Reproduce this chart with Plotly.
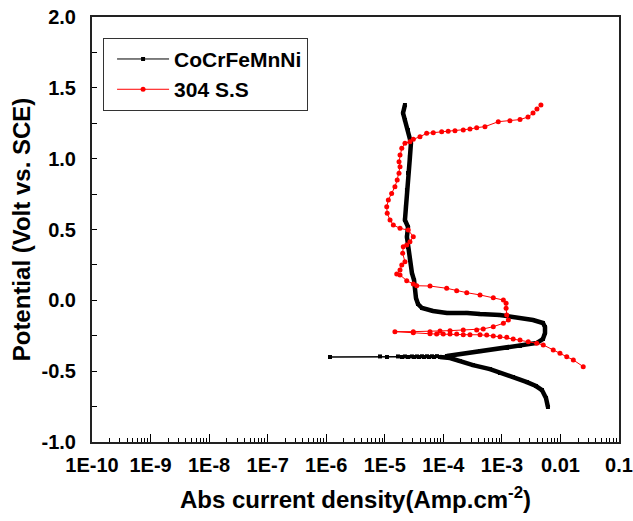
import plotly.graph_objects as go

# ---------------- data ----------------
# CoCrFeMnNi: cathodic branch (scan from -0.75 V upward)
hea_cath_i = [6.12e-3, 5.66e-3, 4.83e-3, 3.82e-3, 2.68e-3, 1.55e-3, 9.27e-4, 6.25e-4,
              3.21e-4, 1.92e-4, 1.30e-4, 8.77e-5]
hea_cath_E = [-0.753, -0.689, -0.633, -0.605, -0.577, -0.541, -0.513, -0.485,
              -0.457, -0.428, -0.407, -0.400]
# CoCrFeMnNi: points around the corrosion potential
hea_corr_i = [6.92e-5, 5.69e-5, 4.67e-5, 3.84e-5, 3.16e-5, 2.49e-5, 1.97e-5, 1.09e-5, 1.16e-6,
              8.28e-6, 1.68e-5, 2.21e-5, 2.91e-5, 3.55e-5, 4.32e-5, 5.26e-5, 6.40e-5, 7.78e-5]
hea_corr_E = [-0.400, -0.400, -0.400, -0.400, -0.400, -0.400, -0.400, -0.400, -0.400,
              -0.396, -0.396, -0.396, -0.396, -0.396, -0.395, -0.395, -0.395, -0.394]
# CoCrFeMnNi: anodic branch
hea_anod_i = [1.15e-4, 2.54e-4, 4.23e-4, 1.22e-3, 2.04e-3, 3.97e-3, 5.02e-3, 5.45e-3,
              5.45e-3, 5.02e-3, 3.40e-3, 1.55e-3, 9.27e-4, 4.23e-4, 2.54e-4, 1.15e-4,
              6.65e-5, 4.32e-5, 3.69e-5, 3.41e-5, 3.28e-5, 3.16e-5, 2.91e-5, 2.69e-5,
              2.49e-5, 2.39e-5, 2.49e-5, 2.21e-5, 2.30e-5, 2.39e-5, 2.49e-5, 2.69e-5,
              2.80e-5, 2.49e-5, 2.21e-5, 2.05e-5, 2.21e-5]
hea_anod_E = [-0.393, -0.372, -0.358, -0.336, -0.322, -0.301, -0.273, -0.231,
              -0.188, -0.160, -0.139, -0.118, -0.104, -0.097, -0.089, -0.089,
              -0.075, -0.054, -0.026, 0.016, 0.073, 0.143, 0.193, 0.285,
              0.376, 0.447, 0.518, 0.567, 0.659, 0.779, 0.899, 1.012,
              1.111, 1.202, 1.273, 1.322, 1.379]

# 304 S.S
ss_i = [2.45e-2, 1.66e-2, 1.28e-2, 9.82e-3, 7.53e-3, 5.09e-3, 3.93e-3, 2.82e-3, 2.04e-3,
        1.56e-3, 1.21e-3, 9.27e-4, 7.13e-4, 5.50e-4, 4.23e-4, 2.85e-4, 2.19e-4, 1.69e-4,
        1.30e-4, 9.97e-5, 7.69e-5, 5.92e-5, 3.07e-5, 1.49e-5,
        3.07e-5, 5.92e-5, 8.77e-5, 1.30e-4, 2.19e-4, 3.71e-4, 4.81e-4, 7.13e-4, 1.06e-3,
        1.29e-3, 1.21e-3, 1.18e-3, 1.18e-3, 1.06e-3, 7.13e-4, 4.23e-4, 2.51e-4, 1.69e-4,
        1.14e-4, 5.92e-5, 3.51e-5, 3.07e-5, 2.37e-5, 1.82e-5, 1.60e-5, 1.82e-5, 1.95e-5,
        2.21e-5, 2.02e-5, 2.07e-5, 2.37e-5, 2.69e-5, 3.07e-5, 2.52e-5, 1.82e-5, 1.40e-5,
        1.23e-5, 1.10e-5, 1.08e-5, 1.15e-5, 1.31e-5, 1.49e-5, 1.63e-5, 1.75e-5, 1.82e-5,
        1.75e-5, 1.82e-5, 1.95e-5, 2.21e-5, 2.69e-5, 3.07e-5, 3.99e-5, 5.19e-5, 6.73e-5,
        9.37e-5, 1.21e-4, 1.58e-4, 2.19e-4, 2.85e-4, 3.71e-4, 5.14e-4, 8.67e-4, 1.37e-3,
        2.04e-3, 2.79e-3, 3.40e-3, 3.97e-3, 4.64e-3]
ss_E = [-0.468, -0.421, -0.398, -0.374, -0.351, -0.315, -0.303, -0.292, -0.280,
        -0.273, -0.261, -0.257, -0.252, -0.245, -0.243, -0.243, -0.243, -0.238,
        -0.238, -0.238, -0.238, -0.236, -0.228, -0.221,
        -0.221, -0.221, -0.216, -0.214, -0.209, -0.209, -0.202, -0.186, -0.162,
        -0.139, -0.104, -0.056, -0.021, 0.002, 0.019, 0.038, 0.054, 0.068,
        0.085, 0.101, 0.103, 0.115, 0.139, 0.179, 0.186, 0.214, 0.249,
        0.273, 0.332, 0.379, 0.391, 0.414, 0.449, 0.496, 0.508, 0.532,
        0.567, 0.614, 0.661, 0.708, 0.755, 0.802, 0.849, 0.897, 0.943,
        0.979, 1.026, 1.073, 1.108, 1.120, 1.137, 1.155, 1.179, 1.183,
        1.190, 1.193, 1.197, 1.202, 1.209, 1.219, 1.226, 1.261, 1.268,
        1.276, 1.294, 1.322, 1.351, 1.379]

x_tickvals = [1e-10, 1e-9, 1e-8, 1e-7, 1e-6, 1e-5, 1e-4, 1e-3, 1e-2, 1e-1]
x_ticktext = ["1E-10", "1E-9", "1E-8", "1E-7", "1E-6", "1E-5", "1E-4", "1E-3", "0.01", "0.1"]
y_tickvals = [-1.0, -0.5, 0.0, 0.5, 1.0, 1.5, 2.0]
y_ticktext = ["-1.0", "-0.5", "0.0", "0.5", "1.0", "1.5", "2.0"]

FONT = "Liberation Sans, Arial, sans-serif"

fig = go.Figure()

# thick body of the densely sampled black curve
fig.add_trace(go.Scatter(x=hea_cath_i, y=hea_cath_E, mode="lines",
                         line=dict(color="black", width=4.5), showlegend=False, hoverinfo="skip"))
fig.add_trace(go.Scatter(x=hea_anod_i, y=hea_anod_E, mode="lines",
                         line=dict(color="black", width=4.5), showlegend=False, hoverinfo="skip"))
# full black series with markers
fig.add_trace(go.Scatter(x=hea_cath_i + hea_corr_i + hea_anod_i,
                         y=hea_cath_E + hea_corr_E + hea_anod_E,
                         mode="lines+markers", name="CoCrFeMnNi",
                         line=dict(color="black", width=1),
                         marker=dict(color="black", size=4, symbol="square")))
fig.add_trace(go.Scatter(x=ss_i, y=ss_E, mode="lines+markers", name="304 S.S",
                         line=dict(color="red", width=1),
                         marker=dict(color="red", size=5, symbol="circle")))

fig.update_layout(
    width=633, height=521,
    margin=dict(l=92, r=14, t=17, b=79, autoexpand=False),
    paper_bgcolor="white", plot_bgcolor="white",
    font=dict(family=FONT, color="black", size=20, weight="bold"),
    legend=dict(x=0.021, y=0.951, xanchor="left", yanchor="top",
                bordercolor="#333", borderwidth=1, bgcolor="white",
                font=dict(family=FONT, size=21, weight="bold"),
                itemwidth=52, indentation=8, tracegroupgap=0),
)
fig.update_xaxes(
    type="log", range=[-10, -1], automargin=False,
    tickvals=x_tickvals, ticktext=x_ticktext,
    ticks="inside", ticklen=8, tickwidth=1, tickcolor="black",
    minor=dict(ticks="inside", ticklen=4, tickwidth=1, tickcolor="black", dtick="D1", showgrid=False),
    showline=True, linewidth=2, linecolor="#222", mirror=True,
    showgrid=False, zeroline=False,
    tickfont=dict(family=FONT, size=20, weight="bold"),
    ticklabelstandoff=4,
    title=dict(text="Abs current density(Amp.cm<sup>-2</sup>)",
               font=dict(family=FONT, size=24, weight="bold"), standoff=16),
)
fig.update_yaxes(
    range=[-1, 2], automargin=False,
    tickvals=y_tickvals, ticktext=y_ticktext,
    ticks="inside", ticklen=5, tickwidth=1, tickcolor="black",
    minor=dict(ticks="inside", ticklen=5, tickwidth=1, tickcolor="black", dtick=0.25, showgrid=False),
    showline=True, linewidth=2, linecolor="#222", mirror=True,
    showgrid=False, zeroline=False,
    tickfont=dict(family=FONT, size=20, weight="bold"),
    ticklabelstandoff=10,
    title=dict(text="Potential (Volt vs. SCE)",
               font=dict(family=FONT, size=24, weight="bold"), standoff=4),
)

fig.write_html("out.html")
